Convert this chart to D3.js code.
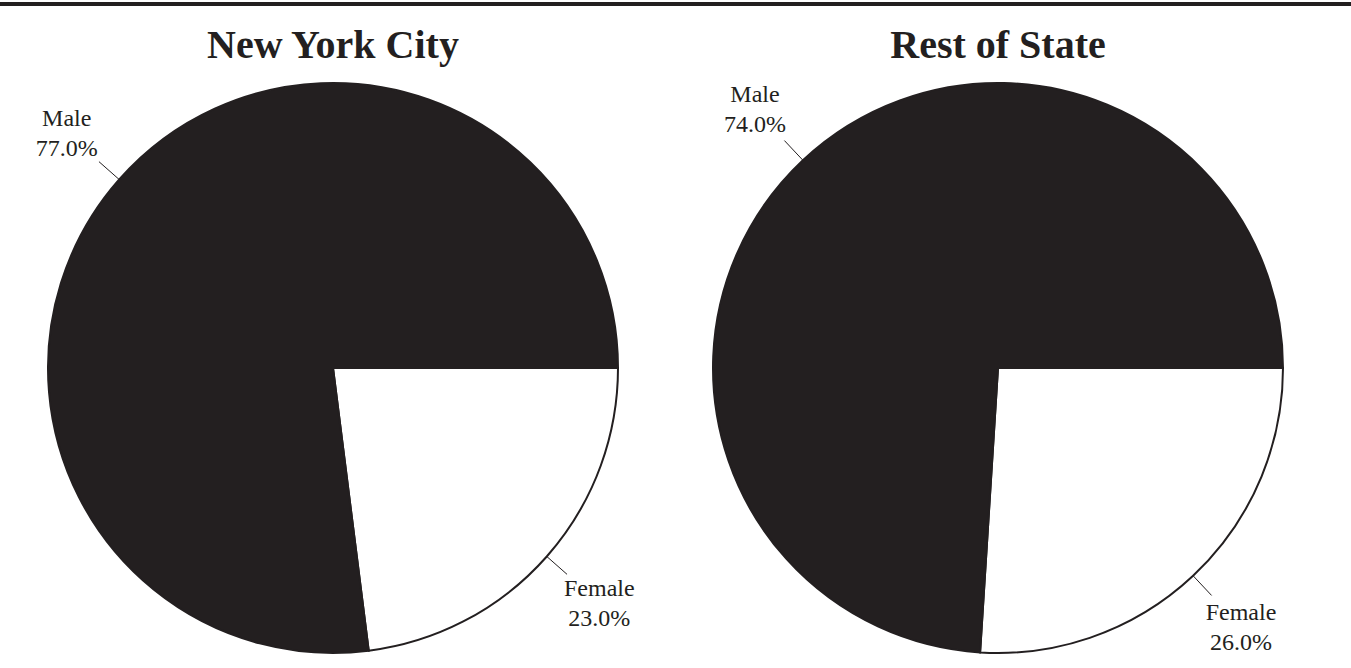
<!DOCTYPE html>
<html lang="en">
<head>
    <meta charset="UTF-8">
    <title>Gender by Region</title>
    <script src="https://d3js.org/d3.v7.min.js"></script>
    <style>
        body { margin: 0; background: #fff; }
        text { font-family: "Liberation Serif", "Times New Roman", serif; fill: #231f20; }
    </style>
</head>
<body>
    <div id="chart"></div>
    <script>
        // chart data
        const regions = ["New York City", "Rest of State"];
        const categories = ["Female", "Male"];
        const nycValues = [23.0, 77.0];
        const restValues = [26.0, 74.0];
        const seriesValues = [nycValues, restValues];

        const width = 1351;
        const height = 668;
        const radius = 285;
        const cy = 368;
        const ink = "#231f20";

        const svg = d3.select("#chart").append("svg")
            .attr("width", width)
            .attr("height", height);

        // heavy rule across the top
        svg.append("rect")
            .attr("x", 0).attr("y", 2)
            .attr("width", width).attr("height", 4)
            .attr("fill", ink);

        const xCenter = d3.scalePoint()
            .domain(regions)
            .range([333, 998]);

        const color = d3.scaleOrdinal()
            .domain(categories)
            .range(["#ffffff", ink]);

        // Female starts at 3 o'clock and runs clockwise
        const pie = d3.pie()
            .sort(null)
            .startAngle(Math.PI / 2)
            .endAngle(Math.PI / 2 + 2 * Math.PI);

        const arc = d3.arc().innerRadius(0).outerRadius(radius);
        const leadIn = d3.arc().innerRadius(radius).outerRadius(radius);
        const leadOut = d3.arc().innerRadius(312).outerRadius(312);
        const labelArc = d3.arc().innerRadius(355).outerRadius(355);

        regions.forEach(function(region, i) {
            const g = svg.append("g")
                .attr("transform", `translate(${xCenter(region)},${cy})`);

            const arcs = pie(seriesValues[i]).map((d, j) => Object.assign(d, {name: categories[j]}));

            g.selectAll("path.slice")
                .data(arcs)
                .enter().append("path")
                .attr("class", "slice")
                .attr("d", arc)
                .attr("fill", d => color(d.name))
                .attr("stroke", ink)
                .attr("stroke-width", 2);

            // leader lines
            g.selectAll("line.leader")
                .data(arcs)
                .enter().append("line")
                .attr("class", "leader")
                .attr("x1", d => leadIn.centroid(d)[0])
                .attr("y1", d => leadIn.centroid(d)[1])
                .attr("x2", d => leadOut.centroid(d)[0])
                .attr("y2", d => leadOut.centroid(d)[1])
                .attr("stroke", ink)
                .attr("stroke-width", 1);

            const labels = g.selectAll("text.label")
                .data(arcs)
                .enter().append("text")
                .attr("class", "label")
                .attr("text-anchor", "middle")
                .attr("font-size", 24)
                .attr("transform", d => {
                    const c = labelArc.centroid(d);
                    return `translate(${c[0]},${c[1] + 8})`;
                });
            labels.append("tspan").attr("x", 0).attr("y", -15).text(d => d.name);
            labels.append("tspan").attr("x", 0).attr("y", 15).text(d => d.value.toFixed(1) + "%");

            // title
            svg.append("text")
                .attr("x", xCenter(region))
                .attr("y", 58)
                .attr("text-anchor", "middle")
                .attr("font-size", 40)
                .attr("font-weight", "bold")
                .text(region);
        });
    </script>
</body>
</html>
